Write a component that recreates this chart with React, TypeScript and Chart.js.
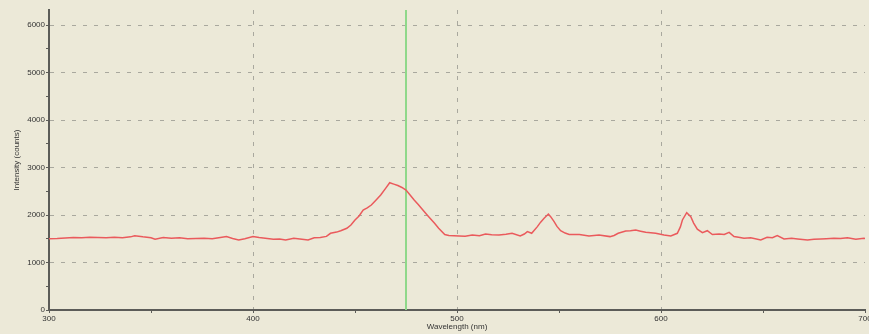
import React, { useEffect, useRef } from "react";
import { Chart, registerables } from "chart.js";

Chart.register(...registerables);

// Wavelength samples (nm) and measured intensity (counts)
const wavelengths = [
  300, 304, 308, 312, 316, 320, 324, 328, 332, 336, 340, 342, 346, 350, 352, 356, 360, 364, 368, 372, 376, 380, 384, 387, 390, 393, 396, 400,
  403, 406, 410, 413, 416, 420, 423, 427, 430, 433, 436, 438, 441, 443, 446, 448, 450, 452, 454, 456, 458, 460, 462.6, 465, 467, 469, 471, 473, 475, 477, 479, 481, 484, 486, 489, 491, 494, 496, 498.5, 501,
  504, 507.5, 511, 514, 517, 520.6, 524, 527, 531, 533, 534.5, 536.6, 539.4, 541, 542.7, 544.8, 546, 547.6, 549, 550.8, 553, 555, 560, 564.7, 569.6, 575, 577, 579, 582.7, 585, 587.6, 590, 592.5, 597.4, 601.5,
  604.8, 608, 609.5, 610.5, 612.6, 614.6, 616, 617.8, 620.3, 622.7, 625.2, 628.5, 631, 633.4, 635.8, 638, 640.7, 644, 648.9, 652, 654.6, 657, 660.3, 664, 667, 671.8, 675, 678.3, 681, 684.8, 688, 691.4, 695.5, 699.5, 700,
];
const intensities = [
  1500, 1505, 1515, 1525, 1520, 1530, 1525, 1520, 1530, 1520, 1540, 1565, 1540, 1520, 1490, 1525, 1510, 1520, 1500, 1505, 1510, 1500, 1525, 1545, 1505, 1475, 1500, 1545,
  1525, 1510, 1490, 1495, 1475, 1510, 1495, 1475, 1520, 1525, 1550, 1615, 1640, 1670, 1720, 1790, 1895, 1980, 2105, 2150, 2210, 2300, 2420, 2560, 2680, 2650, 2620, 2580, 2525, 2420, 2315, 2220, 2070, 1970, 1825, 1720, 1590, 1570, 1565, 1560,
  1555, 1580, 1565, 1600, 1585, 1580, 1595, 1615, 1560, 1600, 1650, 1615, 1755, 1850, 1930, 2020, 1960, 1860, 1760, 1670, 1620, 1590, 1590, 1560, 1580, 1545, 1570, 1615, 1665, 1670, 1685, 1660, 1635, 1615, 1580,
  1560, 1615, 1750, 1895, 2050, 1965, 1830, 1700, 1630, 1670, 1590, 1600, 1590, 1635, 1545, 1530, 1510, 1520, 1475, 1530, 1520, 1565, 1495, 1510, 1495, 1475, 1490, 1495, 1500, 1510, 1505, 1520, 1490, 1510, 1505,
];

// Vertical marker (nm)
const markerWavelength = 475;

// Axis ticks (major ticks are labelled, minor ones only marked)
const xTickValues = [300, 350, 400, 450, 500, 550, 600, 650, 700];
const xMajorStep = 100;
const yTickValues = [0, 500, 1000, 1500, 2000, 2500, 3000, 3500, 4000, 4500, 5000, 5500, 6000];
const yMajorStep = 1000;

const xMin = 300;
const xMax = 700;
const yMin = 0;
const yMax = 6316;

const BG = "#ECE9D8";
const GRID = "#a9a89e";
const AXIS = "#5c5c58";
const TEXT = "#333333";
const FONT = "'Liberation Sans', Arial, sans-serif";

export default function App() {
  const ref = useRef<HTMLCanvasElement | null>(null);

  useEffect(() => {
    if (!ref.current) return;
    const chart = new Chart(ref.current, {
      type: "line",
      data: {
        datasets: [
          {
            label: "marker",
            data: [
              { x: markerWavelength, y: yMin },
              { x: markerWavelength, y: yMax },
            ],
            borderColor: "#8fd88a",
            borderWidth: 2,
            pointRadius: 0,
            order: 2,
          },
          {
            label: "spectrum",
            data: wavelengths.map((w, i) => ({ x: w, y: intensities[i] })),
            borderColor: "#ea5a5c",
            borderWidth: 1.5,
            pointRadius: 0,
            tension: 0,
            order: 1,
          },
        ],
      },
      options: {
        responsive: false,
        animation: false,
        layout: { padding: { left: 0, right: 4, top: 10, bottom: 0 } },
        plugins: {
          legend: { display: false },
          tooltip: { enabled: false },
        },
        scales: {
          x: {
            type: "linear",
            min: xMin,
            max: xMax,
            afterBuildTicks: (s: any) => {
              s.ticks = xTickValues.map((v) => ({ value: v }));
            },
            afterFit: (s: any) => {
              s.height = 24;
              s.paddingLeft = 0;
              s.paddingRight = 0;
            },
            ticks: {
              autoSkip: false,
              maxRotation: 0,
              padding: 1,
              color: TEXT,
              font: { family: FONT, size: 8 },
              callback: (v: any) => (Number(v) % xMajorStep === 0 ? String(v) : ""),
            },
            grid: {
              color: (c: any) =>
                c.tick && c.tick.value % xMajorStep === 0 && c.tick.value !== xMin && c.tick.value !== xMax
                  ? GRID
                  : "rgba(0,0,0,0)",
              tickColor: AXIS,
              tickLength: 3,
              lineWidth: 1,
            },
            border: { color: AXIS, width: 2, dash: [4, 7] },
            title: {
              display: true,
              text: "Wavelength (nm)",
              color: TEXT,
              font: { family: FONT, size: 8 },
              padding: { top: 0, bottom: 2 },
            },
          },
          y: {
            type: "linear",
            min: yMin,
            max: yMax,
            afterBuildTicks: (s: any) => {
              s.ticks = yTickValues.map((v) => ({ value: v }));
            },
            afterFit: (s: any) => {
              s.width = 49;
              s.paddingTop = 0;
              s.paddingBottom = 0;
            },
            ticks: {
              autoSkip: false,
              padding: 1,
              color: TEXT,
              font: { family: FONT, size: 8 },
              callback: (v: any) => (Number(v) % yMajorStep === 0 ? String(v) : ""),
            },
            grid: {
              color: (c: any) =>
                c.tick && c.tick.value % yMajorStep === 0 && c.tick.value !== yMin ? GRID : "rgba(0,0,0,0)",
              tickColor: AXIS,
              tickLength: 3,
              lineWidth: 1,
            },
            border: { color: AXIS, width: 2, dash: [4, 7] },
            title: {
              display: true,
              text: "Intensity (counts)",
              color: TEXT,
              font: { family: FONT, size: 8 },
              padding: { top: 12, bottom: 0 },
            },
          },
        },
      },
    });
    return () => chart.destroy();
  }, []);

  return (
    <div style={{ position: "fixed", left: 0, top: 0, width: 869, height: 334, background: BG }}>
      <canvas ref={ref} width={869} height={334} style={{ display: "block", width: 869, height: 334 }} />
    </div>
  );
}
